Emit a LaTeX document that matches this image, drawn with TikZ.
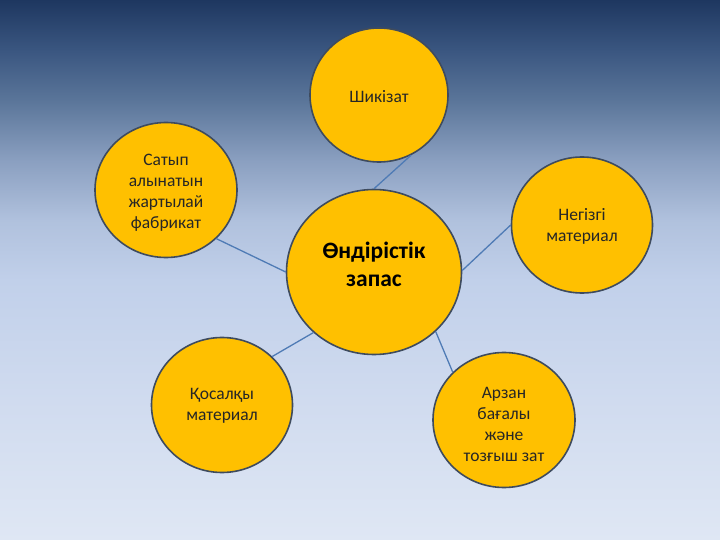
\documentclass[tikz,border=0pt]{standalone}
\usepackage{fontspec}
\setmainfont{Carlito}
\usetikzlibrary{shapes.geometric}
\definecolor{bg0}{HTML}{1E3760}
\definecolor{bg1}{HTML}{3A5680}
\definecolor{bg2}{HTML}{5A7599}
\definecolor{bg3}{HTML}{8A9FC0}
\definecolor{bg4}{HTML}{B0C1DD}
\definecolor{bg5}{HTML}{C1D0EA}
\definecolor{bg6}{HTML}{D0DBEF}
\definecolor{bg7}{HTML}{DFE7F4}
\definecolor{discfill}{HTML}{FFC000}
\definecolor{discline}{HTML}{3E4B5E}
\definecolor{linkcol}{HTML}{4F7BB5}
\pgfdeclareverticalshading{bgshade}{100bp}{color(0bp)=(bg7); color(25bp)=(bg7); color(37.96bp)=(bg6); color(49.07bp)=(bg5); color(54.63bp)=(bg4); color(60.19bp)=(bg3); color(65.74bp)=(bg2); color(70.37bp)=(bg1); color(75bp)=(bg0); color(100bp)=(bg0)}
\tikzset{
  disc/.style={ellipse, fill=discfill, draw=discline, line width=1.6pt, inner sep=0pt},
  disctext/.style={align=center, font=\fontsize{17.5}{21}\selectfont, text=black!85},
  link/.style={draw=linkcol, line width=1.3pt}
}
\begin{document}
\begin{tikzpicture}[x=1pt,y=-1pt]
\useasboundingbox (0,0) rectangle (720,540);
\fill[shading=bgshade] (0,0) rectangle (720,540);
\node[disc, minimum width=138pt, minimum height=134pt,
  label={[disctext, yshift=-2pt]center:{Шикізат}}] (top) at (379,95) {};
\node[disc, minimum width=142pt, minimum height=135pt,
  label={[disctext, yshift=-3pt]center:{Сатып\\алынатын\\жартылай\\фабрикат}}] (left) at (166,190) {};
\node[disc, minimum width=175pt, minimum height=165pt,
  label={[font=\fontsize{23.5}{28}\selectfont\bfseries, align=center, yshift=8pt, text=black]center:{Өндірістік\\запас}}] (mid) at (374,272) {};
\node[disc, minimum width=141pt, minimum height=136pt,
  label={[disctext, yshift=-1pt]center:{Негізгі\\материал}}] (right) at (582,225) {};
\node[disc, minimum width=141pt, minimum height=135pt,
  label={[disctext, yshift=-1pt]center:{Қосалқы\\материал}}] (bl) at (222,405) {};
\node[disc, minimum width=142pt, minimum height=135pt,
  label={[disctext, yshift=-4pt]center:{Арзан\\бағалы\\және\\тозғыш зат}}] (br) at (504,420) {};
\draw[link] (mid.90) -- (top.-62);
\draw[link] (left.-44) -- (mid.180);
\draw[link] (mid.1) -- (right.180);
\draw[link] (mid.225) -- (bl.44);
\draw[link] (mid.-44) -- (br.137);
\end{tikzpicture}
\end{document}
